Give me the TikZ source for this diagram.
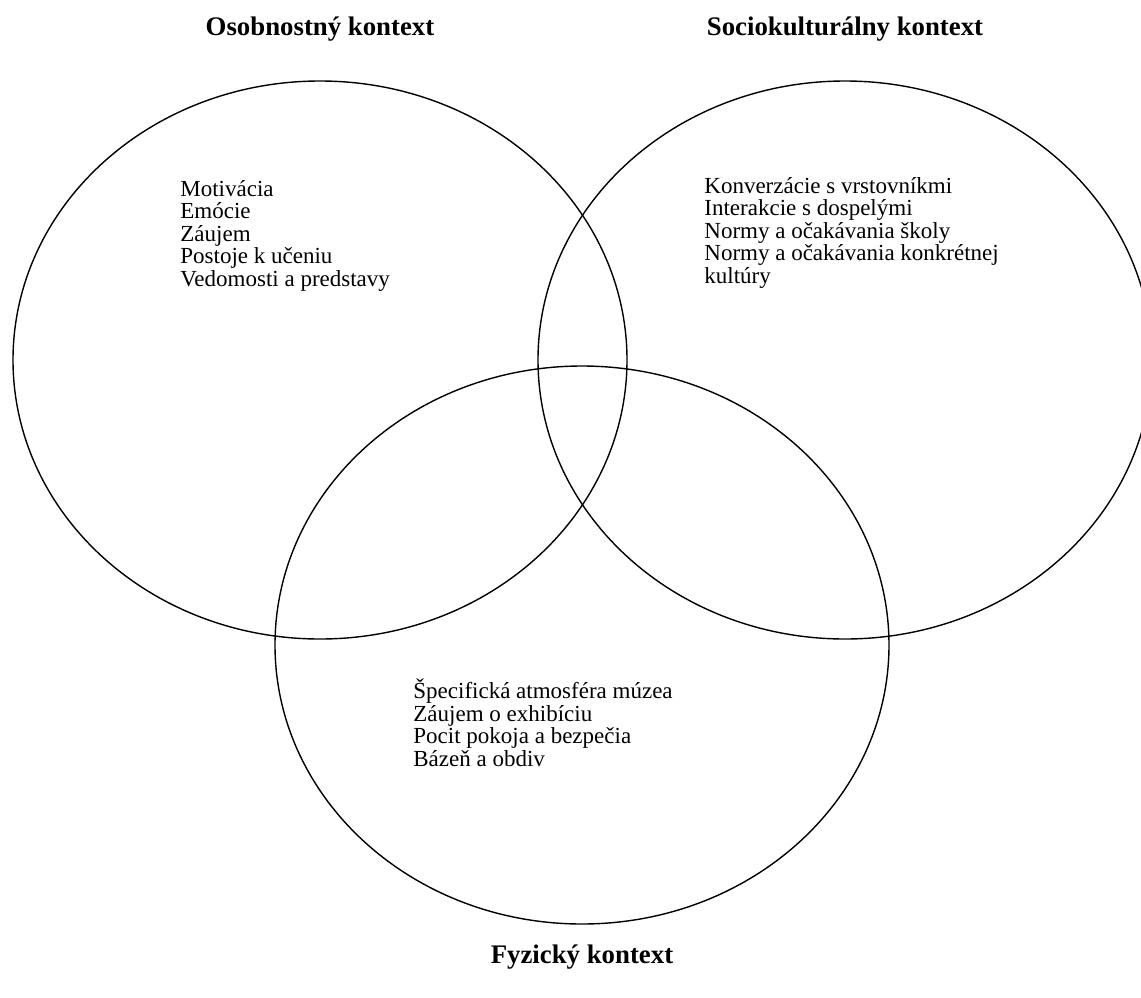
\documentclass[tikz,border=0pt]{standalone}
\usepackage{fontspec}
\setmainfont{Liberation Serif}
\usetikzlibrary{shapes.geometric}

\begin{document}
\begin{tikzpicture}[
    x=0.5pt, y=-0.5pt,
    ring/.style={draw=black, line width=0.7pt, ellipse, minimum width=307pt, minimum height=279pt, inner sep=0pt},
    title/.style={font=\fontsize{13.4}{16}\selectfont\bfseries, anchor=base, inner sep=0pt},
    items/.style={font=\fontsize{11.5}{11.2}\selectfont, align=left, anchor=base west, inner sep=0pt}
]
\useasboundingbox (0,0) rectangle (1141,997);

% Contexts
\node[ring] (pers) at (320,360) {};
\node[ring] (soc) at (845,360) {};
\node[ring] (phys) at (582,645) {};

% Titles
\node[title] (perstitle) at (320,35) {Osobnostný kontext};
\node[title] (soctitle) at (845,35) {Sociokulturálny kontext};
\node[title] (phystitle) at (582,963) {Fyzický kontext};

% Items (anchored at the baseline of the last line)
\node[items] (persitems) at (180,286) {Motivácia\\Emócie\\Záujem\\Postoje k učeniu\\Vedomosti a predstavy};
\node[items] (socitems) at (704,283) {Konverzácie s vrstovníkmi\\Interakcie s dospelými\\Normy a očakávania školy\\Normy a očakávania konkrétnej\\kultúry};
\node[items] (physitems) at (413,766) {Špecifická atmosféra múzea\\Záujem o exhibíciu\\Pocit pokoja a bezpečia\\Bázeň a obdiv};

\end{tikzpicture}
\end{document}
